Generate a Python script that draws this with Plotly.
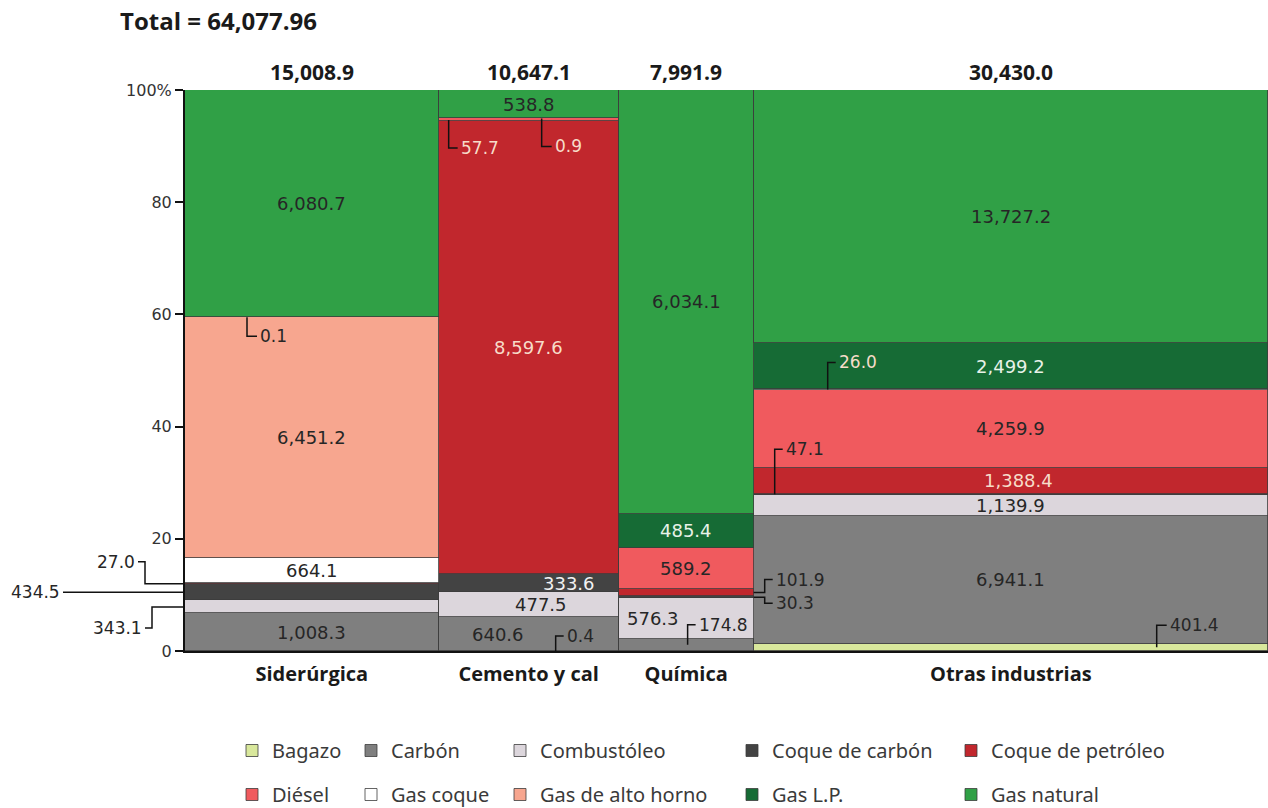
import plotly.graph_objects as go

categories = ["Siderúrgica", "Cemento y cal", "Química", "Otras industrias"]
category_totals = [15008.9, 10647.1, 7991.9, 30430.0]
grand_total_label = "Total = 64,077.96"

fuels = ["Bagazo", "Carbón", "Combustóleo", "Coque de carbón", "Coque de petróleo",
         "Diésel", "Gas coque", "Gas de alto horno", "Gas L.P.", "Gas natural"]

bagazo = [0.0, 0.4, 0.0, 401.4]
carbon = [1008.3, 640.6, 174.8, 6941.1]
combustoleo = [343.1, 477.5, 576.3, 1139.9]
coque_carbon = [434.5, 333.6, 30.3, 47.1]
coque_petroleo = [27.0, 8597.6, 101.9, 1388.4]
diesel = [0.0, 57.7, 589.2, 4259.9]
gas_coque = [664.1, 0.0, 0.0, 26.0]
gas_alto_horno = [6451.2, 0.0, 0.0, 0.0]
gas_lp = [0.1, 0.9, 485.4, 2499.2]
gas_natural = [6080.7, 538.8, 6034.1, 13727.2]

series = [bagazo, carbon, combustoleo, coque_carbon, coque_petroleo,
          diesel, gas_coque, gas_alto_horno, gas_lp, gas_natural]

colors = ["#d9e89c", "#7f7f7f", "#dcd6dc", "#434343", "#c1272d",
          "#f05a5e", "#ffffff", "#f7a68f", "#166b35", "#30a046"]
light_text = {"Coque de carbón": "#f2f2f2", "Coque de petróleo": "#f7dcc9", "Gas L.P.": "#e8f2e8"}
dark_text = "#262626"

# ---- geometry derived from data ----
grand = sum(category_totals)
lefts = []
acc = 0.0
for t in category_totals:
    lefts.append(acc)
    acc += t
centers = [l + w / 2 for l, w in zip(lefts, category_totals)]
cat_sums = [sum(s[i] for s in series) for i in range(len(categories))]
pcts = [[s[i] / cat_sums[i] * 100 for i in range(len(categories))] for s in series]
bottoms = []
run = [0.0] * len(categories)
for p in pcts:
    bottoms.append(run[:])
    run = [r + v for r, v in zip(run, p)]

fig = go.Figure()
for k, (name, col) in enumerate(zip(fuels, colors)):
    fig.add_trace(go.Bar(
        name=name, x=centers, width=category_totals,
        y=[v if v > 0 else None for v in pcts[k]],
        marker=dict(color=col, line=dict(color="#3c3c3c", width=0.8)),
        legend="legend" if k % 5 == 0 else f"legend{k % 5 + 1}",
        legendgroup=name, hoverinfo="skip",
    ))

annotations = []
shapes = []

VAL_FONT = 18

# callouts (leader-line labels) : styling offsets in pixels
callouts = [
    dict(cat=0, fuel="Coque de petróleo", edge="left", ox=0, path=[(-40, 0), (-40, 22), (-47, 22)], side="right"),
    dict(cat=0, fuel="Coque de carbón", edge="left", ox=0, path=[(-122, 0)], side="right"),
    dict(cat=0, fuel="Combustóleo", edge="left", ox=0, path=[(-33, 0), (-33, -21), (-40, -21)], side="right"),
    dict(cat=0, fuel="Gas L.P.", edge="left", ox=62, path=[(62, -19), (72, -19)], side="left"),
    dict(cat=1, fuel="Diésel", edge="left", ox=10, path=[(10, -28), (19, -28)], side="left"),
    dict(cat=1, fuel="Gas L.P.", edge="left", ox=103, path=[(103, -28), (113, -28)], side="left"),
    dict(cat=1, fuel="Bagazo", edge="left", ox=117, path=[(117, 15), (125, 15)], side="left"),
    dict(cat=2, fuel="Carbón", edge="left", ox=69, path=[(69, 20), (77, 20)], side="left"),
    dict(cat=2, fuel="Coque de petróleo", edge="right", ox=0, path=[(11, 0), (11, 13), (19, 13)], side="left"),
    dict(cat=2, fuel="Coque de carbón", edge="right", ox=0, path=[(11, 0), (11, -6), (19, -6)], side="left"),
    dict(cat=3, fuel="Coque de carbón", edge="left", ox=21, path=[(21, 45), (29, 45)], side="left"),
    dict(cat=3, fuel="Gas coque", edge="left", ox=74, path=[(74, 27), (82, 27)], side="left"),
    dict(cat=3, fuel="Bagazo", edge="left", ox=403, path=[(403, 22), (413, 22)], side="left"),
]
light_callouts = {(1, "Diésel"), (1, "Gas L.P."), (3, "Gas coque")}
callout_keys = {(c["cat"], c["fuel"]) for c in callouts}

for c in callouts:
    i, k = c["cat"], fuels.index(c["fuel"])
    xa = (lefts[i] + (category_totals[i] if c["edge"] == "right" else 0)) / grand
    ya = (bottoms[k][i] + pcts[k][i] / 2) / 100
    pts = [(c["ox"], 0)] + c["path"]
    path = "M" + " L".join(f"{px},{py}" for px, py in pts)
    shapes.append(dict(type="path", xref="paper", yref="paper", xsizemode="pixel", ysizemode="pixel",
                       xanchor=xa, yanchor=ya, path=path, line=dict(color="#111111", width=1.5)))
    ex, ey = pts[-1]
    val = series[k][i]
    annotations.append(dict(
        xref="paper", yref="paper", x=xa, y=ya, xshift=ex + (1 if c["side"] == "left" else -1), yshift=ey,
        text=f"{val:,.1f}", showarrow=False, xanchor="left" if c["side"] == "left" else "right",
        yanchor="middle",
        font=dict(family="DejaVu Sans", size=VAL_FONT - 1,
                  color="#f7dcc9" if (i, c["fuel"]) in light_callouts else dark_text)))

# inside labels
inside_shift = {(1, "Carbón"): -31, (1, "Combustóleo"): 12, (1, "Coque de carbón"): 40,
                (2, "Combustóleo"): -33, (3, "Coque de petróleo"): 8}
for k, name in enumerate(fuels):
    for i in range(len(categories)):
        v = series[k][i]
        if v <= 0 or (i, name) in callout_keys:
            continue
        annotations.append(dict(
            xref="x", yref="y", x=centers[i], y=bottoms[k][i] + pcts[k][i] / 2,
            xshift=inside_shift.get((i, name), 0),
            text=f"{v:,.1f}", showarrow=False,
            font=dict(family="DejaVu Sans", size=VAL_FONT, color=light_text.get(name, dark_text))))

# totals above bars
for i in range(len(categories)):
    annotations.append(dict(
        xref="x", yref="paper", x=centers[i], y=1, yshift=18, yanchor="middle",
        text=f"{category_totals[i]:,.1f}", showarrow=False,
        font=dict(family="Open Sans", size=21, color="#1a1a1a", weight=700)))

annotations.append(dict(
    xref="paper", yref="paper", x=(118 - 185) / 1083, y=1 + 70 / 561, xanchor="left", yanchor="middle",
    text=grand_total_label, showarrow=False,
    font=dict(family="Open Sans", size=24, color="#1a1a1a", weight=700)))

# legends
leg_centers = [254, 373, 522, 754, 973]
legend_common = dict(orientation="v", yanchor="top", xanchor="left", traceorder="grouped",
                     tracegroupgap=15, bgcolor="rgba(0,0,0,0)",
                     font=dict(family="Noto Sans", size=20, color="#3a3a3a"))
legend_layout = {}
for j, cx in enumerate(leg_centers):
    key = "legend" if j == 0 else f"legend{j + 1}"
    legend_layout[key] = dict(legend_common, x=(cx - 22 - 185) / 1083, y=(651 - 731) / 561)

fig.update_layout(
    width=1268, height=808,
    margin=dict(l=185, r=0, t=90, b=157, autoexpand=False),
    paper_bgcolor="white", plot_bgcolor="white",
    barmode="stack", bargap=0,
    showlegend=True,
    xaxis=dict(range=[0, grand], tickvals=centers, ticktext=categories, ticks="",
               showgrid=False, zeroline=False, showline=True, linecolor="#111111", linewidth=2,
               automargin=False, ticklabelstandoff=4,
               tickfont=dict(family="Open Sans", size=20, color="#1a1a1a", weight=700)),
    yaxis=dict(range=[0, 100], tickvals=[0, 20, 40, 60, 80, 100],
               ticktext=["0", "20", "40", "60", "80", "100%"], ticks="outside", ticklen=8,
               tickwidth=2, tickcolor="#111111", showgrid=False, zeroline=False,
               showline=True, linecolor="#111111", linewidth=2, automargin=False,
               tickfont=dict(family="DejaVu Sans", size=16, color="#333333")),
    annotations=annotations, shapes=shapes,
    **legend_layout,
)

fig.write_html("out.html", config={"displayModeBar": False},
               post_script="document.body.style.margin='0';document.body.style.overflow='hidden';")
